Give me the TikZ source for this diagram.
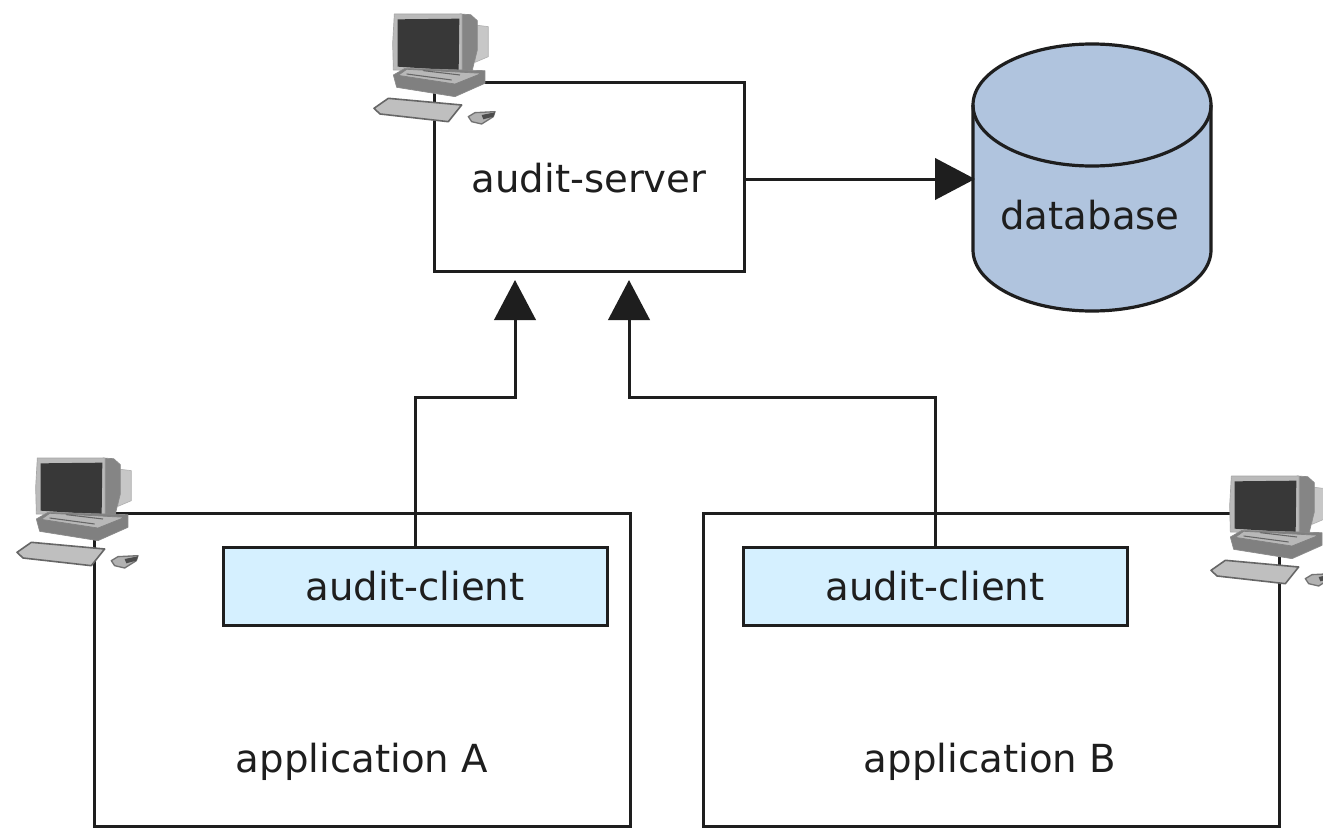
\documentclass[tikz,border=0pt]{standalone}
\usepackage{fontspec}
\setmainfont{DejaVu Sans}
\usetikzlibrary{arrows.meta}
\definecolor{ink}{HTML}{1E1E1E}
\definecolor{dbfill}{HTML}{B0C4DE}
\definecolor{clientfill}{HTML}{D5F0FF}
\tikzset{
  x=0.75pt,y=-0.75pt,
  box/.style={draw=ink,line width=2.25pt,outer sep=0pt,inner sep=0pt,anchor=north west},
  clientbox/.style={box,fill=clientfill,minimum width=288pt,minimum height=58.5pt},
  label/.style={font=\fontsize{29}{35}\selectfont,text=ink,inner sep=0pt},
  conn/.style={draw=ink,line width=2.25pt},
  tip/.style={-{Triangle[length=30pt,width=31pt]},shorten >=0pt},
  computer/.pic={
    \begin{scope}[draw=gray!70,line width=0.5pt,line join=round]
    % back of the monitor
    \filldraw[fill=black!22,draw=black!30] (345,75)--(385,80)--(385,170)--(345,187)--cycle;
    % body
    \filldraw[fill=black!48,draw=black!45] (300,42)--(332,44)--(352,62)--(352,150)--(335,218)--(300,215)--cycle;
    \filldraw[fill=black!27,draw=black!35] (103,42)--(306,42)--(306,216)--(100,210)--(98,130)--cycle;
    % screen
    \fill[fill=black!78] (113,58)--(298,56)--(296,212)--(113,200)--cycle;
    % base
    \filldraw[fill=black!50,draw=black!45] (100,225)--(135,205)--(375,212)--(375,250)--(285,290)--(110,262)--cycle;
    \filldraw[fill=black!28,draw=black!50] (115,226)--(140,208)--(365,220)--(285,252)--cycle;
    \draw[black!60,line width=0.8pt] (140,222)--(275,240) (190,212)--(300,225);
    % keyboard
    \filldraw[fill=black!25,draw=black!60,line width=1.2pt] (42,325)--(85,295)--(305,315)--(265,365)--(60,342)--cycle;
    % mouse
    \filldraw[fill=black!30,draw=black!55,line width=1pt] (325,350)--(345,338)--(405,335)--(400,350)--(365,372)--(335,365)--cycle;
    \fill[black!70] (365,345)--(405,337)--(400,350)--(370,358)--cycle;
    \end{scope}
  }
}
\begin{document}
\begin{tikzpicture}
\clip (0,0) rectangle (1323,828);
\fill[white] (0,0) rectangle (1323,828);

% containers
\node[box,minimum width=232.5pt,minimum height=141.75pt] (server) at (434,82) {};
\node[box,minimum width=402pt,minimum height=234.75pt] (appA) at (94,513) {};
\node[box,minimum width=432pt,minimum height=234.75pt] (appB) at (703,513) {};
\node[clientbox] (clientA) at (223,547) {};
\node[clientbox] (clientB) at (743,547) {};

% database
\filldraw[fill=dbfill,draw=ink,line width=2.4pt]
  (973,105) arc[start angle=180,end angle=360,x radius=119,y radius=61]
  -- (1211,250) arc[start angle=0,end angle=180,x radius=119,y radius=61] -- cycle;
\draw[ink,line width=2.4pt] (973,105) arc[start angle=180,end angle=0,x radius=119,y radius=61];
\node[minimum width=178.5pt,minimum height=200pt,inner sep=0pt,outer sep=0pt] (db) at (1092,178) {};

% texts
\node[label] (tServer) at (589,178) {audit-server};
\node[label] (tDb) at (1090,215) {database};
\node[label] (tClientA) at (415,586) {audit-client};
\node[label] (tClientB) at (935,586) {audit-client};
\node[label] (tAppA) at (362,762) {application A};
\node[label] (tAppB) at (990,762) {application B};

% connector targets
\coordinate (inA) at (515,280);
\coordinate (inB) at (629,280);
\coordinate (inD) at (975,179);
\coordinate (kneeA) at (415,397);
\coordinate (kneeB) at (935,397);

\draw[conn,tip] (clientA.north) -- (kneeA) -| (inA);
\draw[conn,tip] (clientB.north) -- (kneeB) -| (inB);
\draw[conn,tip] (server.east |- inD) -- (inD);

% computers
\pic[scale=0.3333] (pcS) at (360,0) {computer};
\pic[scale=0.3333] (pcA) at (3,444) {computer};
\pic[scale=0.3333] (pcB) at (1197,462) {computer};
\end{tikzpicture}
\end{document}
